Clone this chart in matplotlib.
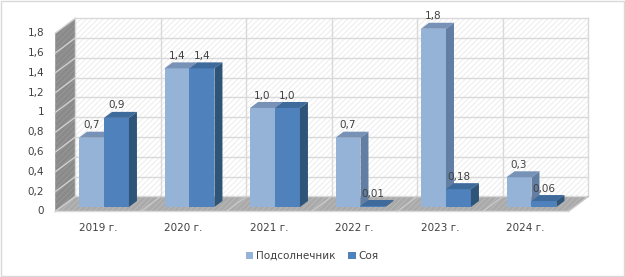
import matplotlib
matplotlib.use('Agg')
import matplotlib.pyplot as plt
from matplotlib.patches import Polygon, Rectangle

# datos del grafico
anios = ['2019 г.', '2020 г.', '2021 г.', '2022 г.', '2023 г.', '2024 г.']
girasol = [0.7, 1.4, 1.0, 0.7, 1.8, 0.3]
soya = [0.9, 1.4, 1.0, 0.01, 0.18, 0.06]
etiq_girasol = ['0,7', '1,4', '1,0', '0,7', '1,8', '0,3']
etiq_soya = ['0,9', '1,4', '1,0', '0,01', '0,18', '0,06']
series = ['Подсолнечник', 'Соя']
ticks_y = [0, 0.2, 0.4, 0.6, 0.8, 1, 1.2, 1.4, 1.6, 1.8]
ticks_txt = ['0', '0,2', '0,4', '0,6', '0,8', '1', '1,2', '1,4', '1,6', '1,8']

# colores (frente, arriba, lado)
col_g = ['#95B3D7', '#7892B7', '#627FA3']
col_s = ['#4F81BD', '#3E6A9C', '#2E5578']
txt = '#404040'

plt.rcParams['hatch.linewidth'] = 0.6
fig = plt.figure(figsize=(6.25, 2.77), dpi=100)
ax = fig.add_axes([0, 0, 1, 1])
ax.set_xlim(-1.146, 6.164)
ax.set_ylim(-0.6616, 2.136)
ax.axis('off')

# profundidad del "3D"
dx, dy = 0.234, 0.1515
ymax = 1.8
n = len(anios)
x0, x1 = -0.5, n - 0.5

# pared del fondo, pared izquierda y piso
ax.add_patch(Polygon([(x0 + dx, dy), (x1 + dx, dy), (x1 + dx, ymax + dy), (x0 + dx, ymax + dy)],
                     facecolor='white', edgecolor='#EAEAEA', hatch='//////', lw=0, zorder=0))
ax.add_patch(Polygon([(x0, 0), (x0 + dx, dy), (x0 + dx, ymax + dy), (x0, ymax)],
                     facecolor='#8A8A8A', edgecolor='#999999', hatch='//////', lw=0, zorder=0))
ax.add_patch(Polygon([(x0, 0), (x1, 0), (x1 + dx, dy), (x0 + dx, dy)],
                     facecolor='#AAAAAA', edgecolor='#BBBBBB', hatch='//////', lw=0, zorder=0))

# lineas de la cuadricula
for v in ticks_y:
    ax.plot([x0 + dx, x1 + dx], [v + dy, v + dy], color='#D9D9D9', lw=1, zorder=1)
    ax.plot([x0, x0 + dx], [v, v + dy], color='#D0D0D0', lw=1, zorder=1)
for k in range(n + 1):
    ax.plot([x0 + k + dx, x0 + k + dx], [dy, ymax + dy], color='#D9D9D9', lw=1, zorder=1)
    ax.plot([x0 + k, x0 + k + dx], [0, dy], color='#C8C8C8', lw=1, zorder=1)
ax.plot([x0, x1], [0, 0], color='#D9D9D9', lw=1, zorder=1)

# barras 3D
w = 0.292
fx, fy = 0.3 * dx, 0.3 * dy
bx, by = 0.4 * dx, 0.4 * dy
pos = list(range(n))


def barras(izq, vals, cols, etiq, z, nombre):
    ax.bar(izq, vals, width=w, bottom=fy, align='edge', color=cols[0], zorder=z, label=nombre)
    for xl, v, t in zip(izq, vals, etiq):
        top = fy + v
        ax.add_patch(Polygon([(xl, top), (xl + w, top), (xl + w + bx, top + by), (xl + bx, top + by)],
                             facecolor=cols[1], lw=0, zorder=z))
        ax.add_patch(Polygon([(xl + w, fy), (xl + w + bx, fy + by), (xl + w + bx, top + by), (xl + w, top)],
                             facecolor=cols[2], lw=0, zorder=z))
        ax.annotate(t, (xl + w / 2, top + by), xytext=(0, 1), textcoords='offset points',
                    ha='center', va='bottom', fontsize=7.5, color=txt, zorder=10)


barras([p + fx - w for p in pos], girasol, col_g, etiq_girasol, 3, series[0])
barras([p + fx for p in pos], soya, col_s, etiq_soya, 4, series[1])

# etiquetas de los ejes
for v, t in zip(ticks_y, ticks_txt):
    ax.text(-0.632, v, t, ha='right', va='center', fontsize=7.5, color=txt)
for p, a in zip(pos, anios):
    ax.text(p, -0.167, a, ha='center', va='center', fontsize=7.5, color=txt)

fig.legend(loc='center', bbox_to_anchor=(0.5, 0.076), ncol=2, frameon=False,
           fontsize=7.5, labelcolor=txt, handlelength=0.7, handleheight=0.7,
           handletextpad=0.3, columnspacing=1.2)

# marco exterior
fig.patches.append(Rectangle((0.002, 0.004), 0.996, 0.992, transform=fig.transFigure,
                             fill=False, edgecolor='#D9D9D9', lw=1))

plt.savefig('out.png', dpi=100)
